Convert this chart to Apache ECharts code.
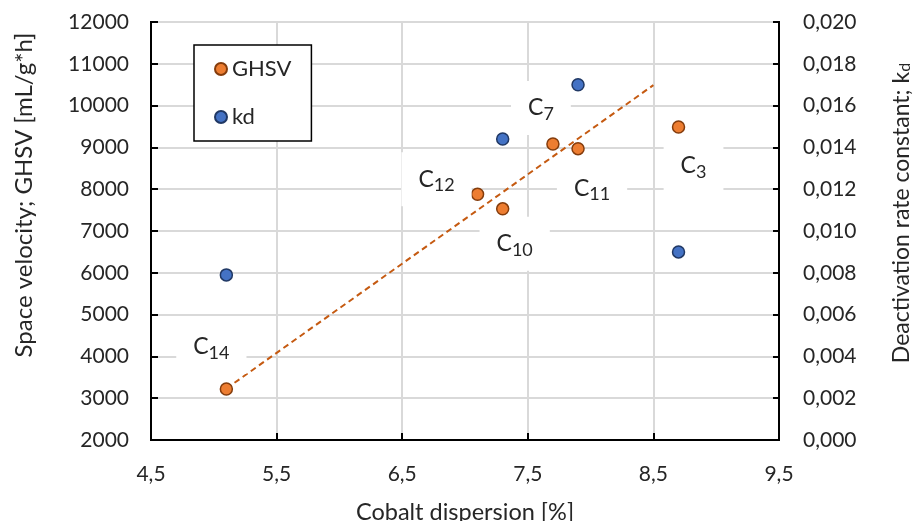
<!DOCTYPE html>
<html>
<head>
<meta charset="utf-8">
<script src="https://cdn.jsdelivr.net/npm/echarts@6/dist/echarts.min.js"></script>
<style>
  html, body { margin: 0; padding: 0; background: #fff; }
  #chart { width: 917px; height: 521px; }
</style>
</head>
<body>
<div id="chart"></div>
<script>
// Catalysts: cobalt dispersion [%] vs. space velocity (GHSV) and deactivation constant kd
const catalystNo = ['14', '12', '10', '7', '11', '3'];
const dispersion = [5.1, 7.1, 7.3, 7.7, 7.9, 8.7];
const ghsv = [3220, 7880, 7530, 9080, 8970, 9490];

const kdDispersion = [5.1, 7.3, 7.9, 8.7];
const kdValues = [0.0079, 0.0144, 0.0170, 0.0090];

// linear trend of GHSV (end points)
const trendX = [5.1, 8.5];
const trendY = [3230, 10490];

// label placement relative to each GHSV point
const labelOffsets = [[-15, -42], [-41, -15], [12, 35], [-12, -36], [14, 40], [15, 39]];

const FONT = 'Lato';
const TXT = '#262626';
const comma = (v, d) => v.toFixed(d).replace('.', ',');

const ghsvData = dispersion.map((x, i) => ({
  value: [x, ghsv[i]],
  label: {
    show: true,
    position: 'inside',
    offset: labelOffsets[i],
    formatter: '{c|C}{s|' + catalystNo[i] + '}',
    backgroundColor: '#fff',
    padding: [12, 17, 12, 17],
    rich: {
      c: { fontFamily: FONT, fontSize: 23, color: TXT, lineHeight: 30 },
      s: { fontFamily: FONT, fontSize: 18, color: TXT, lineHeight: 18, verticalAlign: 'bottom' }
    }
  }
}));

const chart = echarts.init(document.getElementById('chart'), null, { renderer: 'canvas' });

chart.setOption({
  animation: false,
  backgroundColor: '#fff',
  textStyle: { fontFamily: FONT, color: TXT },
  grid: {
    left: 151, right: 138, top: 22, bottom: 81,
    outerBoundsMode: 'none',
    containLabel: false,
    show: true, borderColor: '#000', borderWidth: 2, backgroundColor: 'transparent'
  },
  legend: {
    data: ['GHSV', 'kd'],
    orient: 'vertical',
    left: 194, top: 45,
    padding: [12, 20, 12, 20],
    itemGap: 24,
    itemWidth: 12, itemHeight: 12,
    borderColor: '#000', borderWidth: 1.5,
    backgroundColor: '#fff',
    textStyle: { fontFamily: FONT, fontSize: 22, color: TXT, lineHeight: 24 }
  },
  xAxis: {
    type: 'value',
    min: 4.5, max: 9.5, interval: 1,
    name: 'Cobalt dispersion [%]',
    nameLocation: 'middle',
    nameGap: 60,
    nameTextStyle: { fontFamily: FONT, fontSize: 23.5, color: TXT },
    axisLine: { show: true, onZero: false, lineStyle: { color: '#000', width: 2 } },
    axisTick: { show: true, inside: true, length: 7, lineStyle: { color: '#000', width: 2 } },
    axisLabel: { margin: 24, fontSize: 21, fontFamily: FONT, color: TXT, formatter: v => comma(v, 1) },
    splitLine: { show: true, lineStyle: { color: '#d9d9d9', width: 2 } }
  },
  yAxis: [
    {
      type: 'value',
      min: 2000, max: 12000, interval: 1000,
      name: 'Space velocity; GHSV [mL/g*h]',
      nameLocation: 'middle',
      nameGap: 115,
      nameRotate: 90,
      nameTextStyle: { fontFamily: FONT, fontSize: 24, color: TXT, padding: [0, 0, 0, 72] },
      axisLine: { show: true, lineStyle: { color: '#000', width: 2 } },
      axisTick: { show: true, inside: true, length: 7, lineStyle: { color: '#000', width: 2 } },
      axisLabel: { margin: 22, fontSize: 21, fontFamily: FONT, color: TXT, formatter: v => String(v) },
      splitLine: { show: true, lineStyle: { color: '#d9d9d9', width: 2 } }
    },
    {
      type: 'value',
      position: 'right',
      min: 0, max: 0.02, interval: 0.002,
      name: 'Deactivation rate constant; k{s|d}',
      nameLocation: 'middle',
      nameGap: 111,
      nameRotate: 90,
      nameTextStyle: {
        fontFamily: FONT, fontSize: 23, color: TXT, padding: [0, 0, 0, 36],
        rich: { s: { fontFamily: FONT, fontSize: 16, color: TXT, verticalAlign: 'bottom', lineHeight: 14 } }
      },
      axisLine: { show: true, lineStyle: { color: '#000', width: 2 } },
      axisTick: { show: true, inside: true, length: 6, lineStyle: { color: '#000', width: 2 } },
      axisLabel: { margin: 24, fontSize: 21, fontFamily: FONT, color: TXT, formatter: v => comma(v, 3) },
      splitLine: { show: false }
    }
  ],
  series: [
    {
      name: 'GHSV trend',
      type: 'line',
      data: trendX.map((x, i) => [x, trendY[i]]),
      symbol: 'none',
      lineStyle: { color: '#c55a11', width: 2, type: [6, 4] },
      silent: true,
      z: 3
    },
    {
      name: 'GHSV',
      type: 'scatter',
      data: ghsvData,
      symbolSize: 12,
      itemStyle: { color: '#ed7d31', borderColor: '#843c0c', borderWidth: 1.5, opacity: 1 },
      z: 4
    },
    {
      name: 'kd',
      type: 'scatter',
      yAxisIndex: 1,
      data: kdDispersion.map((x, i) => [x, kdValues[i]]),
      symbolSize: 12,
      itemStyle: { color: '#4472c4', borderColor: '#203864', borderWidth: 1.5, opacity: 1 },
      z: 4
    }
  ]
});
</script>
</body>
</html>
